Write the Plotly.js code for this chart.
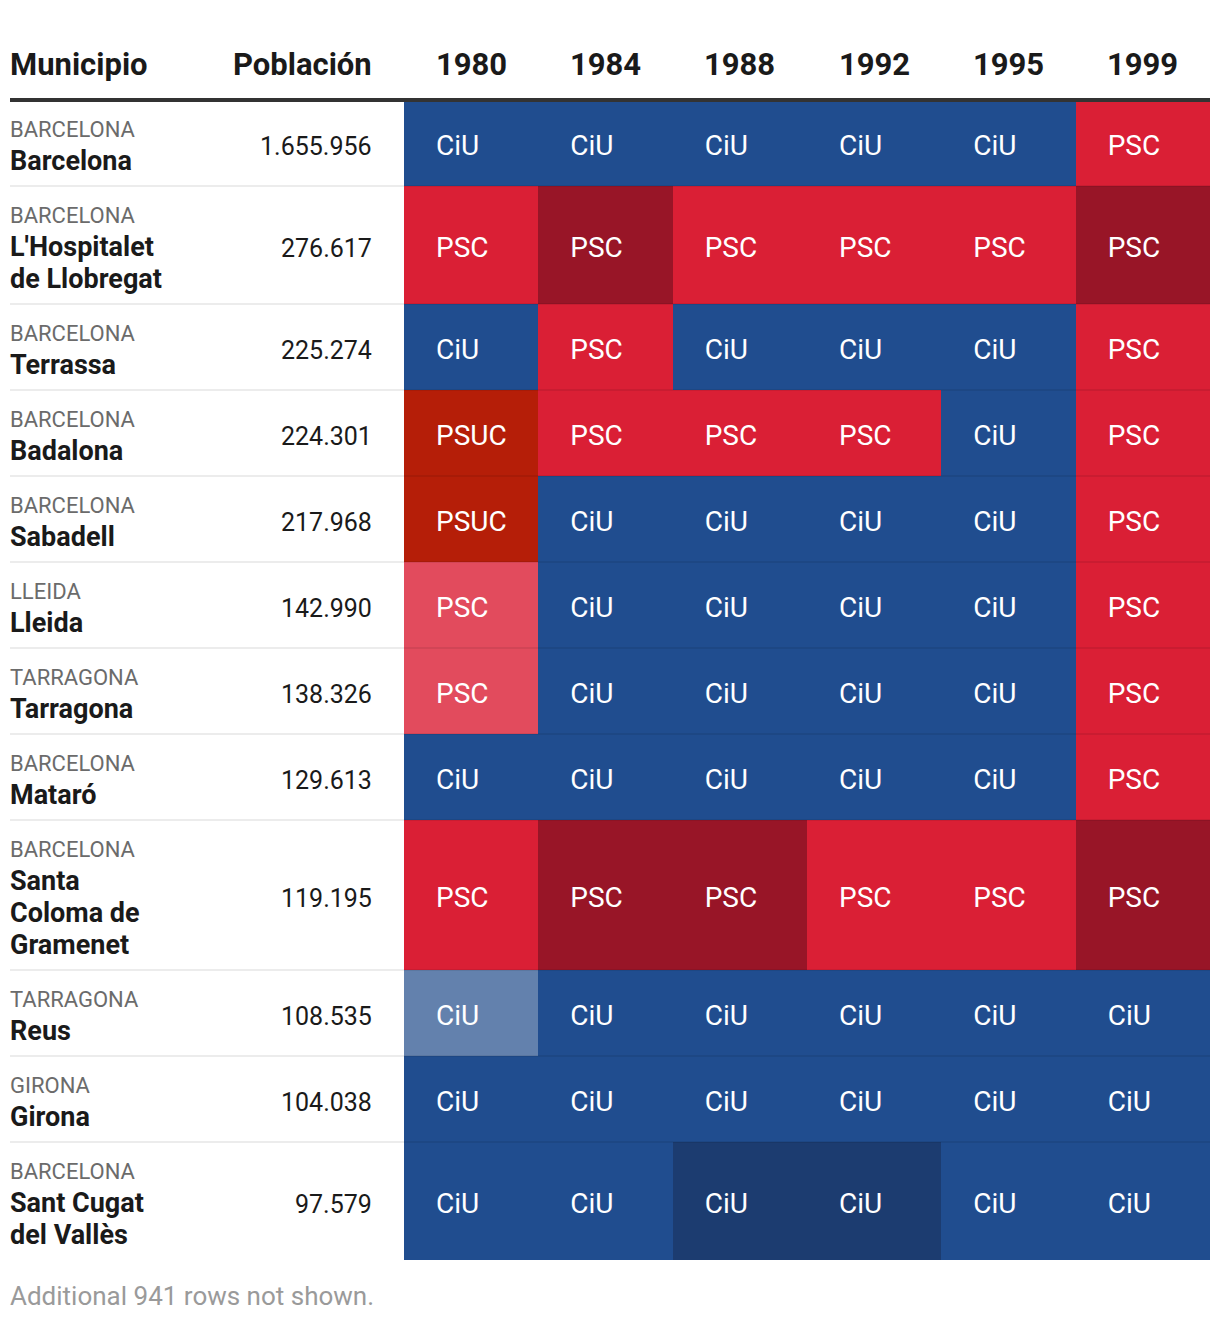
<!DOCTYPE html>
<html>
<head>
<meta charset="utf-8">
<script src="https://cdn.plot.ly/plotly-3.0.1.min.js"></script>
<style>
  html, body { margin: 0; padding: 0; background: #ffffff; }
  #chart { width: 1220px; height: 1320px; }
</style>
</head>
<body>
<div id="chart"></div>
<script>
// ---------------- DATA ----------------
const years = ["1980", "1984", "1988", "1992", "1995", "1999"];
const provincias = ["BARCELONA", "BARCELONA", "BARCELONA", "BARCELONA", "BARCELONA", "LLEIDA",
                    "TARRAGONA", "BARCELONA", "BARCELONA", "TARRAGONA", "GIRONA", "BARCELONA"];
const municipios = ["Barcelona", "L'Hospitalet<br>de Llobregat", "Terrassa", "Badalona", "Sabadell", "Lleida",
                    "Tarragona", "Mataró", "Santa<br>Coloma de<br>Gramenet", "Reus", "Girona", "Sant Cugat<br>del Vallès"];
const poblacion = [1655956, 276617, 225274, 224301, 217968, 142990, 138326, 129613, 119195, 108535, 104038, 97579];
const ganador = [
  ["CiU", "CiU", "CiU", "CiU", "CiU", "PSC"],
  ["PSC", "PSC", "PSC", "PSC", "PSC", "PSC"],
  ["CiU", "PSC", "CiU", "CiU", "CiU", "PSC"],
  ["PSUC", "PSC", "PSC", "PSC", "CiU", "PSC"],
  ["PSUC", "CiU", "CiU", "CiU", "CiU", "PSC"],
  ["PSC", "CiU", "CiU", "CiU", "CiU", "PSC"],
  ["PSC", "CiU", "CiU", "CiU", "CiU", "PSC"],
  ["CiU", "CiU", "CiU", "CiU", "CiU", "PSC"],
  ["PSC", "PSC", "PSC", "PSC", "PSC", "PSC"],
  ["CiU", "CiU", "CiU", "CiU", "CiU", "CiU"],
  ["CiU", "CiU", "CiU", "CiU", "CiU", "CiU"],
  ["CiU", "CiU", "CiU", "CiU", "CiU", "CiU"]
];
// shade of each cell: n = normal, d = dark, l = light
const intensidad = [
  ["n", "n", "n", "n", "n", "n"],
  ["n", "d", "n", "n", "n", "d"],
  ["n", "n", "n", "n", "n", "n"],
  ["n", "n", "n", "n", "n", "n"],
  ["n", "n", "n", "n", "n", "n"],
  ["l", "n", "n", "n", "n", "n"],
  ["l", "n", "n", "n", "n", "n"],
  ["n", "n", "n", "n", "n", "n"],
  ["n", "d", "d", "n", "n", "d"],
  ["l", "n", "n", "n", "n", "n"],
  ["n", "n", "n", "n", "n", "n"],
  ["n", "n", "d", "d", "n", "n"]
];
const filasOcultas = 941;

// ---------------- STYLE / LAYOUT CONSTANTS ----------------
const W = 1220, H = 1320;
const FONT = "Roboto, 'Noto Sans', sans-serif";
const headerBottom = 100;
const baseRowH = 86, extraLineH = 32;
const gridLeft = 404, gridRight = 1210, leftPad = 10, textLeft = 8, popRight = 374;
const categories = ["CiU|n", "CiU|d", "CiU|l", "PSC|n", "PSC|d", "PSC|l", "PSUC|n"];
const catColors = ["#204d8f", "#1c3c70", "#6381ad", "#da1f35", "#981527", "#e24b5d", "#b51e08"];
const SZ = { header: 31, prov: 22, name: 27, pop: 25, cell: 28, foot: 26 };

// row geometry (pixel units on a page-sized y axis)
const edges = [headerBottom];
municipios.forEach(m => {
  const lines = m.split("<br>").length;
  edges.push(edges[edges.length - 1] + baseRowH + extraLineH * (lines - 1));
});
const tops = edges.slice(0, -1);
const centers = tops.map((t, i) => (t + edges[i + 1]) / 2);

// z codes
const z = ganador.map((row, i) => row.map((p, j) => categories.indexOf(p + "|" + intensidad[i][j])));
const nC = categories.length;
const colorscale = [];
catColors.forEach((c, k) => {
  const lo = Math.max(0, (k - 0.5) / (nC - 1));
  const hi = Math.min(1, (k + 0.5) / (nC - 1));
  colorscale.push([lo, c]);
  colorscale.push([hi, c]);
});

const xIdx = years.map((_, j) => j);

const heat = {
  type: "heatmap",
  x: xIdx,
  y: edges,
  z: z,
  zmin: 0, zmax: nC - 1,
  colorscale: colorscale,
  showscale: false,
  hoverinfo: "skip",
  xaxis: "x", yaxis: "y"
};

// cell labels
const colPx = (gridRight - gridLeft) / years.length;
const padFrac = 32 / colPx;
const tx = [], ty = [], tt = [];
ganador.forEach((row, i) => row.forEach((p, j) => {
  tx.push(j - 0.5 + padFrac);
  ty.push(centers[i] + 5);
  tt.push(p);
}));
const labels = {
  type: "scatter",
  mode: "text",
  x: tx, y: ty, text: tt,
  textposition: "middle right",
  textfont: { family: FONT, size: SZ.cell, color: "#ffffff" },
  hoverinfo: "skip",
  cliponaxis: false,
  showlegend: false,
  xaxis: "x", yaxis: "y"
};

function fmt(n) { return String(n).replace(/\B(?=(\d{3})+(?!\d))/g, "."); }

const annotations = [];
const px = v => v / W;
// headers
annotations.push({ xref: "paper", yref: "y", x: px(textLeft), y: 64, xanchor: "left", yanchor: "middle",
  text: "<b>Municipio</b>", showarrow: false, font: { family: FONT, size: SZ.header, color: "#1a1a1a" } });
annotations.push({ xref: "paper", yref: "y", x: px(popRight), y: 64, xanchor: "right", yanchor: "middle",
  text: "<b>Población</b>", showarrow: false, font: { family: FONT, size: SZ.header, color: "#1a1a1a" } });
years.forEach((yr, j) => annotations.push({ xref: "x", yref: "y", x: j, y: 64, xanchor: "center", yanchor: "middle",
  text: "<b>" + yr + "</b>", showarrow: false, font: { family: FONT, size: SZ.header, color: "#1a1a1a" } }));
// rows
municipios.forEach((m, i) => {
  annotations.push({ xref: "paper", yref: "y", x: px(textLeft), y: tops[i] + 44, xanchor: "left", yanchor: "bottom",
    text: provincias[i], showarrow: false, align: "left", font: { family: FONT, size: SZ.prov, color: "#6b6b6b" } });
  m.split("<br>").forEach((line, k) => {
    const baseline = tops[i] + 70 + extraLineH * k;
    annotations.push({ xref: "paper", yref: "y", x: px(textLeft), y: baseline - 0.345 * SZ.name, xanchor: "left", yanchor: "middle",
      text: "<b>" + line + "</b>", showarrow: false, align: "left", font: { family: FONT, size: SZ.name, color: "#1a1a1a" } });
  });
  annotations.push({ xref: "paper", yref: "y", x: px(popRight), y: centers[i] + 3, xanchor: "right", yanchor: "middle",
    text: fmt(poblacion[i]), showarrow: false, font: { family: FONT, size: SZ.pop, color: "#1a1a1a" } });
});
// footer
annotations.push({ xref: "paper", yref: "y", x: px(textLeft), y: edges[edges.length - 1] + 36, xanchor: "left", yanchor: "middle",
  text: "Additional " + filasOcultas + " rows not shown.", showarrow: false, font: { family: FONT, size: SZ.foot, color: "#9a9a9a" } });

const shapes = [];
// row separators
for (let i = 1; i < edges.length - 1; i++) {
  shapes.push({ type: "line", xref: "paper", yref: "y", x0: px(leftPad), x1: px(gridRight), y0: edges[i], y1: edges[i],
    line: { color: "rgba(0,0,0,0.075)", width: 2 }, layer: "above" });
}
// header rule
shapes.push({ type: "line", xref: "paper", yref: "y", x0: px(leftPad), x1: px(gridRight), y0: headerBottom, y1: headerBottom,
  line: { color: "#333333", width: 4 }, layer: "above" });

const layout = {
  width: W, height: H,
  margin: { l: 0, r: 0, t: 0, b: 0, pad: 0 },
  paper_bgcolor: "#ffffff", plot_bgcolor: "rgba(0,0,0,0)",
  font: { family: FONT },
  showlegend: false,
  xaxis: { domain: [px(gridLeft), px(gridRight)], range: [-0.5, years.length - 0.5], visible: false, fixedrange: true },
  yaxis: { domain: [0, 1], range: [H, 0], visible: false, fixedrange: true },
  annotations: annotations,
  shapes: shapes
};

Plotly.newPlot("chart", [heat, labels], layout, { displayModeBar: false, staticPlot: true });
</script>
</body>
</html>
